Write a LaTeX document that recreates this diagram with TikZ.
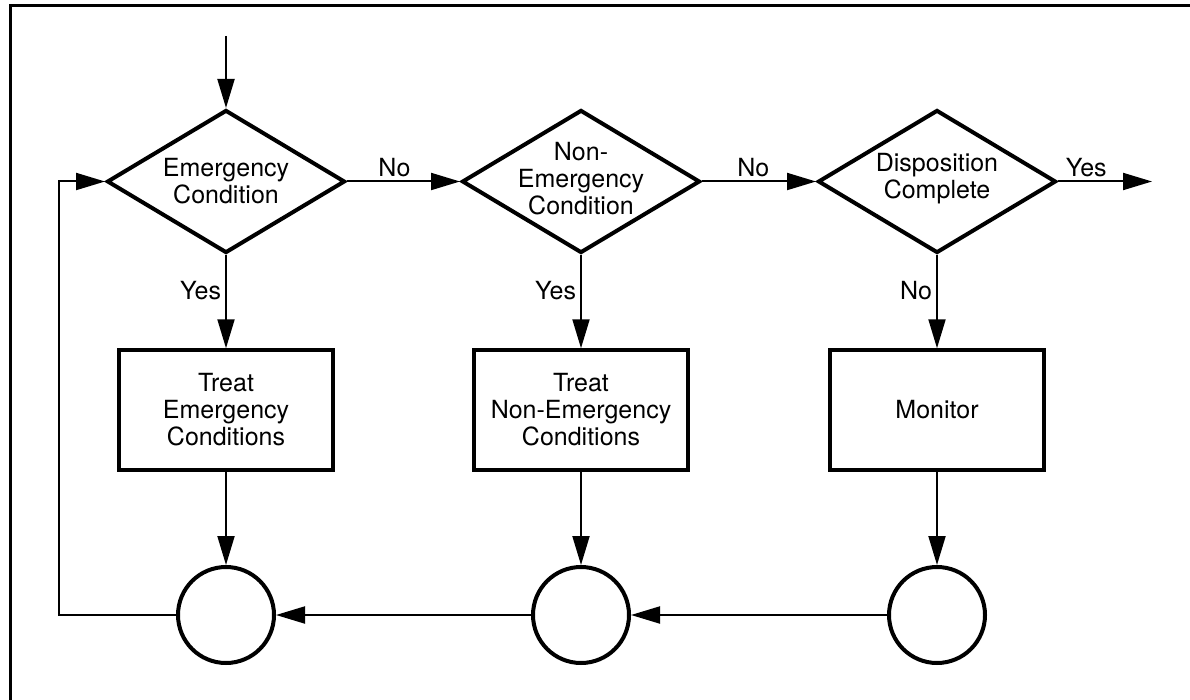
\documentclass[tikz,border=0pt]{standalone}
\usepackage{fontspec}
\setmainfont{TeX Gyre Heros}
\usetikzlibrary{shapes.geometric,arrows.meta}
\begin{document}
\begin{tikzpicture}[x=1pt,y=-1pt,
  font=\fontsize{25}{27}\selectfont,
  conn/.style={line width=2pt,-{Triangle[length=29pt,width=17pt]}},
  decision/.style={diamond,draw,line width=4pt,minimum width=238pt,minimum height=143pt,inner sep=0pt},
  process/.style={rectangle,draw,line width=3.5pt,minimum width=214pt,minimum height=120pt,align=center,inner sep=0pt},
  junction/.style={circle,draw,line width=4pt,minimum size=96pt,inner sep=0pt},
  dtext/.style={align=center,inner sep=0pt}
]
\useasboundingbox (0,0) rectangle (1190,700);

% frame (top and left edges)
\draw[line width=3pt] (10,700) -- (10,6) -- (1190,6);

% decisions
\node[decision] (d1) at (226,181.5) {};
\node[dtext] (d1t) at (226,181) {Emergency\\Condition};
\node[decision] (d2) at (581,181.5) {};
\node[dtext] (d2t) at (581,179) {Non-\\Emergency\\Condition};
\node[decision] (d3) at (937,181.5) {};
\node[dtext] (d3t) at (937,179) {Disposition\\Complete};

% processes
\node[process] (p1) at (226,410) {Treat\\Emergency\\Conditions};
\node[process] (p2) at (581,410) {Treat\\Non-Emergency\\Conditions};
\node[process] (p3) at (937,410) {Monitor};

% junctions
\node[junction] (c1) at (226,615) {};
\node[junction] (c2) at (581,615) {};
\node[junction] (c3) at (937,615) {};

% free ends
\coordinate (start) at (226,36);
\coordinate (exit) at (1152,181.5);
\coordinate (loop) at (59,615);

% flow
\draw[conn] (start) -- (d1);
\draw[conn] (d1) -- node[above,pos=0.42] {No} (d2);
\draw[conn] (d2) -- node[above,pos=0.45] {No} (d3);
\draw[conn] (d3) -- node[above,pos=0.3] {Yes} (exit);
\draw[conn] (d1) -- node[left,pos=0.38,inner sep=4pt] {Yes} (p1);
\draw[conn] (d2) -- node[left,pos=0.38,inner sep=4pt] {Yes} (p2);
\draw[conn] (d3) -- node[left,pos=0.38,inner sep=4pt] {No} (p3);
\draw[conn] (p1) -- (c1);
\draw[conn] (p2) -- (c2);
\draw[conn] (p3) -- (c3);
\draw[conn] (c3) -- (c2);
\draw[conn] (c2) -- (c1);
\draw[conn] (c1.west) -- (loop) |- (d1.west);
\end{tikzpicture}
\end{document}
